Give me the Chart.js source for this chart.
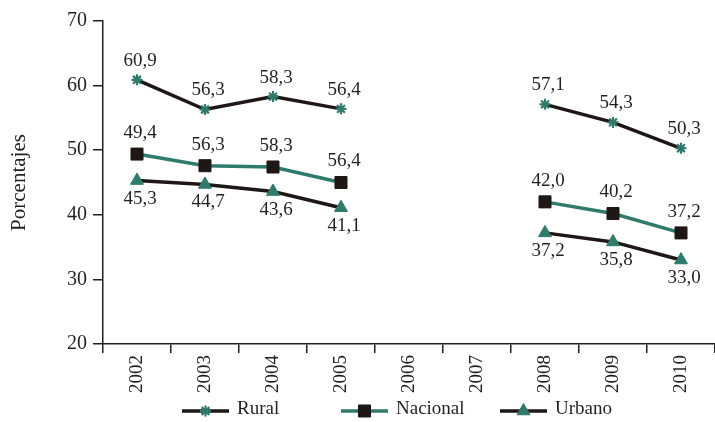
<!DOCTYPE html>
<html lang="es">
<head>
<meta charset="utf-8">
<title>Porcentajes 2002–2010</title>
<script src="https://cdn.jsdelivr.net/npm/chart.js@4/dist/chart.umd.min.js"></script>
<style>
  html, body { margin: 0; padding: 0; background: #ffffff; }
  #wrap { width: 715px; height: 422px; position: relative; }
</style>
</head>
<body>
<div id="wrap"><canvas id="grafico"></canvas></div>
<script>
// Años de la serie (2006 y 2007 sin datos)
const anios = ['2002', '2003', '2004', '2005', '2006', '2007', '2008', '2009', '2010'];

// Valores por área
const rural    = [60.9, 56.3, 58.3, 56.4, null, null, 57.1, 54.3, 50.3];
const nacional = [49.4, 47.6, 47.4, 45.0, null, null, 42.0, 40.2, 37.2];
const urbano   = [45.3, 44.7, 43.6, 41.1, null, null, 37.2, 35.8, 33.0];

// Rótulos impresos junto a cada punto
const ruralRotulos    = ['60,9', '56,3', '58,3', '56,4', null, null, '57,1', '54,3', '50,3'];
const nacionalRotulos = ['49,4', '56,3', '58,3', '56,4', null, null, '42,0', '40,2', '37,2'];
const urbanoRotulos   = ['45,3', '44,7', '43,6', '41,1', null, null, '37,2', '35,8', '33,0'];

// Eje vertical
const ejeMin = 20;
const ejeMax = 70;
const ejePaso = 10;

const NEGRO = '#1e1715';
const VERDE = '#2f7a6b';
const TEXTO = '#231f20';
const FUENTE = '"Liberation Serif", "Times New Roman", serif';

// Rótulos de valor: arriba para Rural y Nacional, abajo para Urbano
const rotulosPlugin = {
  id: 'rotulos',
  afterDatasetsDraw(chart) {
    const ctx = chart.ctx;
    ctx.save();
    ctx.font = '19px ' + FUENTE;
    ctx.fillStyle = TEXTO;
    ctx.textAlign = 'center';
    ctx.textBaseline = 'middle';
    chart.data.datasets.forEach((ds, i) => {
      const meta = chart.getDatasetMeta(i);
      meta.data.forEach((pt, j) => {
        const txt = ds.rotulos[j];
        if (txt == null || ds.data[j] == null) return;
        ctx.fillText(txt, pt.x + 3, pt.y + ds.desplaz);
      });
    });
    ctx.restore();
  }
};

// Leyenda inferior: segmento de línea con su marcador
const leyendaPlugin = {
  id: 'leyendaLinea',
  afterDraw(chart) {
    const ctx = chart.ctx;
    const area = chart.chartArea;
    const columna = 159;
    const inicio = area.left + 79;
    const y = chart.height - 11;
    ctx.save();
    chart.data.datasets.forEach((ds, i) => {
      const x0 = inicio + i * columna;
      ctx.strokeStyle = ds.borderColor;
      ctx.lineWidth = 3.5;
      ctx.beginPath();
      ctx.moveTo(x0, y);
      ctx.lineTo(x0 + 47, y);
      ctx.stroke();
      ctx.fillStyle = ds.pointBackgroundColor;
      ctx.strokeStyle = ds.pointBorderColor;
      ctx.lineWidth = ds.pointBorderWidth;
      Chart.helpers.drawPoint(ctx, {
        pointStyle: ds.pointStyle,
        radius: ds.pointRadius,
        borderWidth: ds.pointBorderWidth,
        rotation: 0
      }, x0 + 23.5, y);
      ctx.font = '19px ' + FUENTE;
      ctx.fillStyle = TEXTO;
      ctx.textAlign = 'left';
      ctx.textBaseline = 'middle';
      ctx.fillText(ds.label, x0 + 55, y - 2);
    });
    ctx.restore();
  }
};

new Chart(document.getElementById('grafico'), {
  type: 'line',
  data: {
    labels: anios,
    datasets: [
      {
        label: 'Rural',
        data: rural,
        rotulos: ruralRotulos,
        desplaz: -19,
        borderColor: NEGRO,
        borderWidth: 3.5,
        pointStyle: 'star',
        pointRadius: 5.5,
        pointBorderWidth: 2.2,
        pointBackgroundColor: VERDE,
        pointBorderColor: VERDE
      },
      {
        label: 'Nacional',
        data: nacional,
        rotulos: nacionalRotulos,
        desplaz: -21,
        borderColor: VERDE,
        borderWidth: 3.5,
        pointStyle: 'rect',
        pointRadius: 8.5,
        pointBorderWidth: 1,
        pointBackgroundColor: NEGRO,
        pointBorderColor: NEGRO
      },
      {
        label: 'Urbano',
        data: urbano,
        rotulos: urbanoRotulos,
        desplaz: 18,
        borderColor: NEGRO,
        borderWidth: 3.5,
        pointStyle: 'triangle',
        pointRadius: 7.5,
        pointBorderWidth: 1,
        pointBackgroundColor: VERDE,
        pointBorderColor: VERDE
      }
    ]
  },
  options: {
    responsive: true,
    maintainAspectRatio: false,
    animation: false,
    spanGaps: false,
    layout: { autoPadding: false, padding: { top: 21, right: 0, bottom: 0, left: 0 } },
    plugins: {
      legend: { display: false },
      tooltip: { enabled: false }
    },
    elements: { line: { tension: 0 } },
    scales: {
      x: {
        offset: true,
        grid: {
          offset: true,
          drawOnChartArea: false,
          drawTicks: true,
          tickLength: 9,
          color: TEXTO,
          lineWidth: 1.5
        },
        border: { color: TEXTO, width: 1.5 },
        ticks: {
          minRotation: 90,
          maxRotation: 90,
          autoSkip: false,
          padding: 2,
          color: TEXTO,
          font: { family: FUENTE, size: 19 }
        },
        afterFit(scale) { scale.height = 78; scale.paddingRight = 0; scale.paddingLeft = 0; }
      },
      y: {
        min: ejeMin,
        max: ejeMax,
        grid: {
          drawOnChartArea: false,
          drawTicks: true,
          tickLength: 10,
          color: TEXTO,
          lineWidth: 1.5
        },
        border: { color: TEXTO, width: 1.5 },
        ticks: {
          stepSize: ejePaso,
          padding: 6,
          color: TEXTO,
          font: { family: FUENTE, size: 20 }
        },
        title: {
          display: true,
          text: 'Porcentajes',
          color: TEXTO,
          padding: { top: 7, bottom: 0 },
          font: { family: FUENTE, size: 21 }
        },
        afterFit(scale) { scale.width = 103; }
      }
    }
  },
  plugins: [rotulosPlugin, leyendaPlugin]
});
</script>
</body>
</html>
